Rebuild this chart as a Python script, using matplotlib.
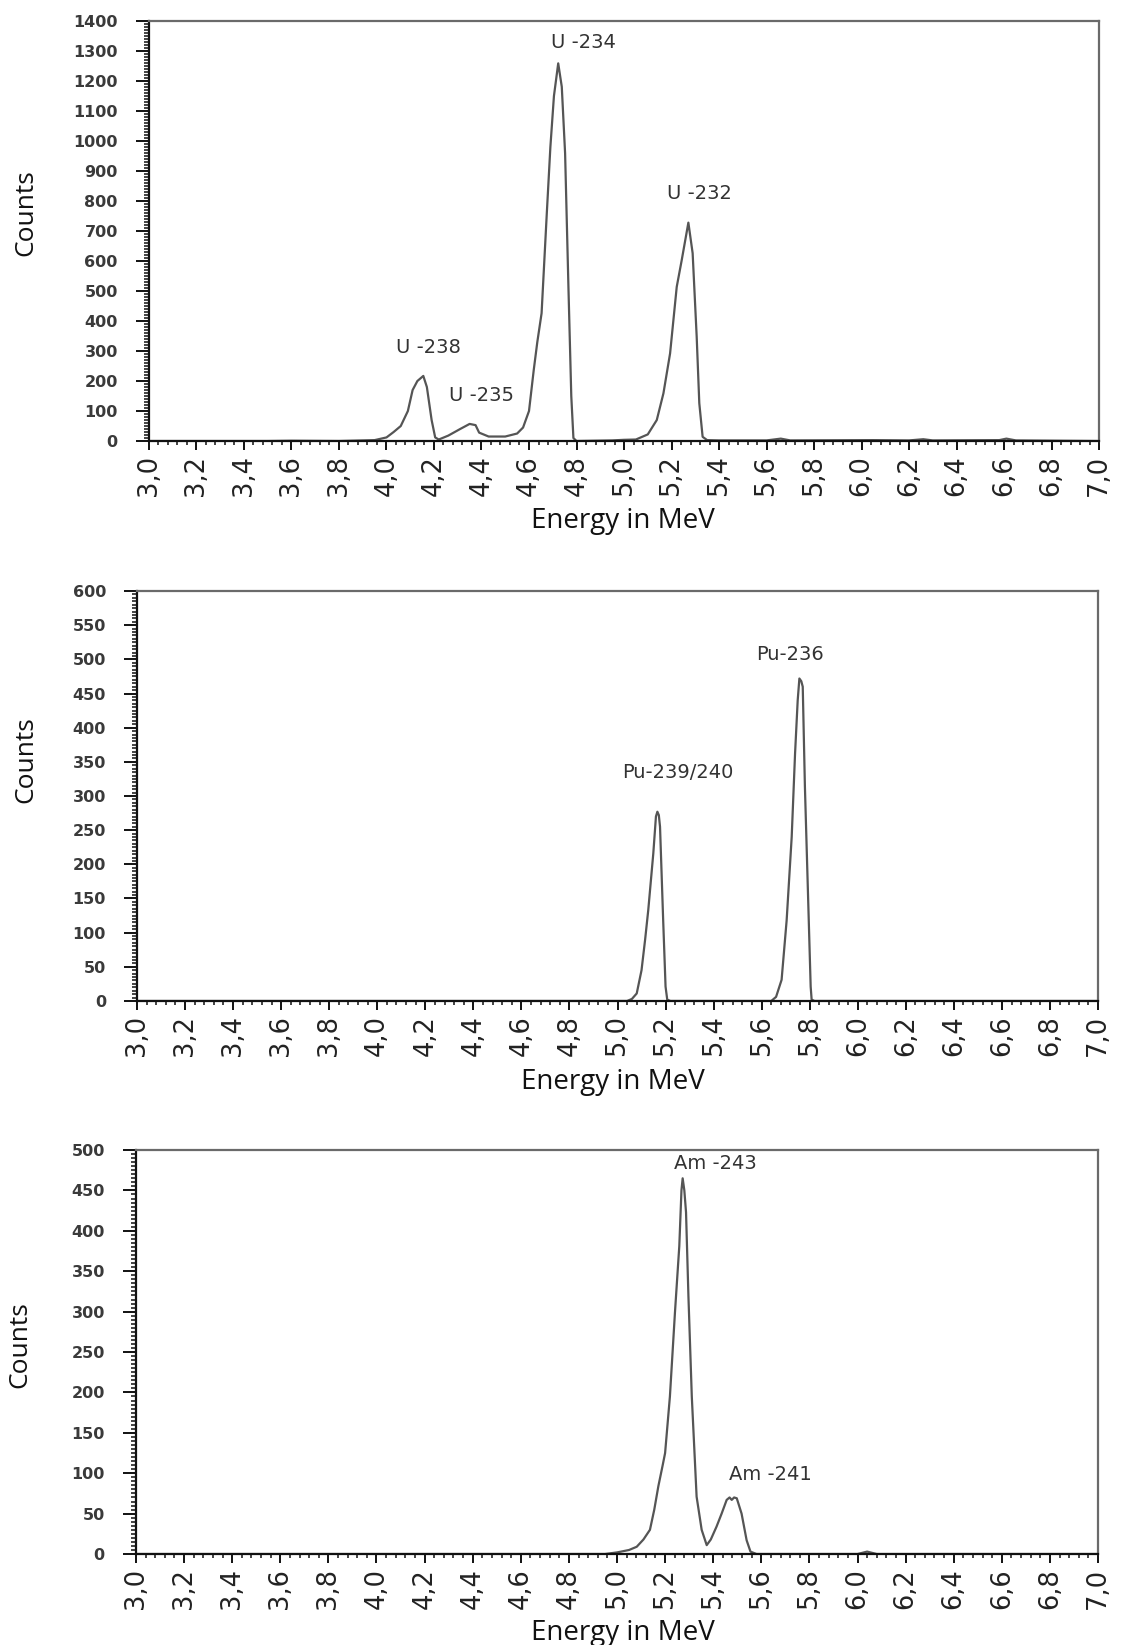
import matplotlib
matplotlib.use('Agg')
import matplotlib.pyplot as plt
from matplotlib.ticker import FixedLocator, MultipleLocator

# ---------------- data ----------------
x_ticks = [3.0, 3.2, 3.4, 3.6, 3.8, 4.0, 4.2, 4.4, 4.6, 4.8, 5.0,
           5.2, 5.4, 5.6, 5.8, 6.0, 6.2, 6.4, 6.6, 6.8, 7.0]
x_tick_labels = ['3,0', '3,2', '3,4', '3,6', '3,8', '4,0', '4,2', '4,4', '4,6', '4,8', '5,0',
                 '5,2', '5,4', '5,6', '5,8', '6,0', '6,2', '6,4', '6,6', '6,8', '7,0']

# Uranium spectrum
u_energy = [3.00, 3.50, 3.60, 3.80, 3.90, 3.95, 4.00, 4.03, 4.06, 4.09, 4.11, 4.13, 4.155,
            4.17, 4.19, 4.205, 4.22, 4.26, 4.31, 4.35, 4.375, 4.39, 4.43, 4.50, 4.55,
            4.575, 4.60, 4.62, 4.635, 4.653, 4.675, 4.69, 4.705, 4.723, 4.738, 4.752,
            4.766, 4.778, 4.787, 4.80, 4.95, 5.00, 5.05, 5.10, 5.138, 5.166, 5.194,
            5.222, 5.243, 5.271, 5.289, 5.306, 5.317, 5.331, 5.35, 5.40, 5.60, 5.66,
            5.70, 6.05, 6.20, 6.26, 6.30, 6.58, 6.61, 6.65, 7.00]
u_counts = [0, 0, 1, 0, 2, 3, 12, 30, 50, 100, 170, 200, 217,
            180, 70, 12, 5, 18, 40, 57, 53, 28, 15, 15, 25,
            45, 100, 237, 330, 426, 760, 980, 1150, 1259, 1181, 959,
            514, 150, 10, 0, 2, 4, 5, 22, 70, 159, 292,
            514, 603, 728, 626, 348, 126, 14, 3, 2, 2, 8,
            2, 3, 2, 6, 2, 3, 8, 2, 0]
u_labels = ['U -238', 'U -235', 'U -234', 'U -232']
u_label_x = [4.175, 4.40, 4.83, 5.316]
u_label_y = [313, 153, 1328, 824]

# Plutonium spectrum
pu_energy = [3.00, 5.04, 5.06, 5.08, 5.10, 5.115, 5.128, 5.149, 5.16, 5.166, 5.172, 5.177,
             5.19, 5.20, 5.207, 5.22, 5.64, 5.66, 5.683, 5.704, 5.725, 5.739, 5.75, 5.757,
             5.765, 5.771, 5.78, 5.794, 5.804, 5.808, 5.82, 7.00]
pu_counts = [0, 0, 3, 11, 45, 90, 133, 216, 270, 277, 272, 255,
             119, 21, 2, 0, 0, 6, 31, 118, 240, 362, 440, 472,
             468, 460, 314, 143, 21, 2, 0, 0]
pu_labels = ['Pu-239/240', 'Pu-236']
pu_label_x = [5.252, 5.718]
pu_label_y = [335, 507]

# Americium spectrum
am_energy = [3.00, 4.95, 5.00, 5.05, 5.082, 5.11, 5.137, 5.155, 5.172, 5.19, 5.20, 5.22,
             5.241, 5.259, 5.268, 5.273, 5.28, 5.287, 5.297, 5.311, 5.331, 5.352, 5.373,
             5.39, 5.414, 5.435, 5.456, 5.468, 5.477, 5.487, 5.498, 5.518, 5.539, 5.555,
             5.58, 6.00, 6.04, 6.08, 7.00]
am_counts = [0, 0, 2, 5, 9, 18, 30, 55, 84, 110, 125, 195,
             299, 381, 450, 465, 450, 423, 319, 195, 71, 30, 11,
             18, 34, 50, 67, 70, 67, 70, 69, 50, 17, 3,
             0, 0, 3, 0, 0]
am_labels = ['Am -243', 'Am -241']
am_label_x = [5.407, 5.636]
am_label_y = [483, 99]

panels = [
    dict(rect=[0.1329, 0.7319, 0.8475, 0.2553], x=u_energy, y=u_counts, ymax=1400,
         major=100, minor=10, labels=u_labels, lx=u_label_x, ly=u_label_y,
         counts_pos=(26, 213), energy_pos=(623, 521)),
    dict(rect=[0.1222, 0.3915, 0.8573, 0.2492], x=pu_energy, y=pu_counts, ymax=600,
         major=50, minor=5, labels=pu_labels, lx=pu_label_x, ly=pu_label_y,
         counts_pos=(26, 760), energy_pos=(613, 1082)),
    dict(rect=[0.1213, 0.0553, 0.8582, 0.2456], x=am_energy, y=am_counts, ymax=500,
         major=50, minor=5, labels=am_labels, lx=am_label_x, ly=am_label_y,
         counts_pos=(20, 1345), energy_pos=(623, 1633)),
]

W, H = 1121, 1645
fig = plt.figure(figsize=(W / 100, H / 100), dpi=100)

for p in panels:
    ax = fig.add_axes(p['rect'])
    ax.plot(p['x'], p['y'], color='#555555', lw=1.6, solid_joinstyle='round')
    ax.set_xlim(3.0, 7.0)
    ax.set_ylim(0, p['ymax'])
    ax.xaxis.set_major_locator(FixedLocator(x_ticks))
    ax.set_xticklabels(x_tick_labels, rotation=90, fontsize=18.5,
                       family='DejaVu Sans', color='#222222')
    ax.xaxis.set_minor_locator(MultipleLocator(0.04))
    ax.yaxis.set_major_locator(MultipleLocator(p['major']))
    ax.yaxis.set_minor_locator(MultipleLocator(p['minor']))
    for lab in ax.get_yticklabels():
        lab.set_fontsize(11.5)
        lab.set_fontweight('bold')
        lab.set_color('#3a3a3a')
        lab.set_family('DejaVu Sans')
    ax.tick_params(axis='y', which='major', direction='out', length=9.4, width=1.4,
                   pad=13, color='#111111')
    ax.tick_params(axis='y', which='minor', direction='out', length=3.8, width=1.1,
                   color='#111111')
    ax.tick_params(axis='x', which='major', direction='out', length=6.5, width=1.4,
                   pad=3.6, color='#111111')
    ax.tick_params(axis='x', which='minor', direction='out', length=3.2, width=1.1,
                   color='#111111')
    for side in ['left', 'bottom']:
        ax.spines[side].set_color('#111111')
        ax.spines[side].set_linewidth(1.6)
    for side in ['top', 'right']:
        ax.spines[side].set_color('#6a6a6a')
        ax.spines[side].set_linewidth(1.6)
    for t, tx, ty in zip(p['labels'], p['lx'], p['ly']):
        ax.text(tx, ty, t, ha='center', va='center', fontsize=14,
                family='DejaVu Sans', color='#333333')
    cx, cy = p['counts_pos']
    fig.text(cx / W, 1 - cy / H, 'Counts', rotation=90, ha='center', va='center',
             fontsize=19, family='Open Sans', color='#111111')
    ex, ey = p['energy_pos']
    fig.text(ex / W, 1 - ey / H, 'Energy in MeV', ha='center', va='center',
             fontsize=20, family='Open Sans', color='#111111')

fig.savefig('out.png', dpi=100, facecolor='white')
